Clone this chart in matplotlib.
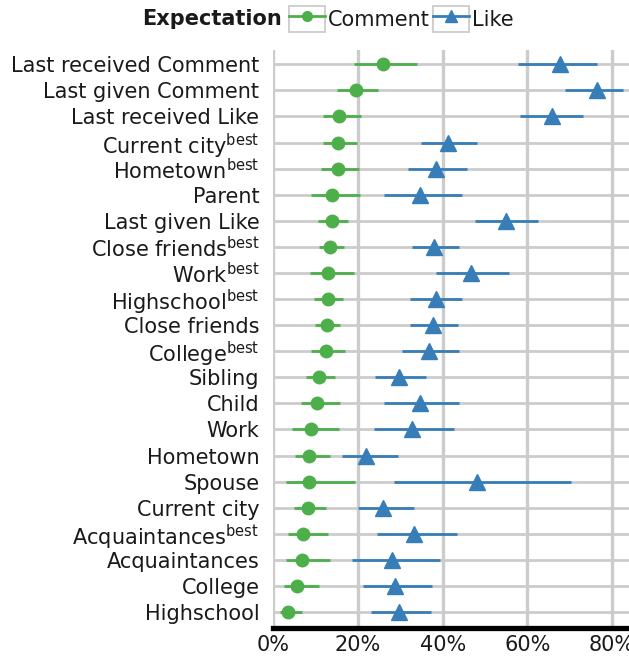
import matplotlib
matplotlib.use("Agg")
import matplotlib.pyplot as plt
from matplotlib.patches import Rectangle
from matplotlib.lines import Line2D
from matplotlib.legend_handler import HandlerTuple
from matplotlib.ticker import FixedLocator, FuncFormatter

plt.rcParams['font.family'] = ['DejaVu Sans']
plt.rcParams['mathtext.fontset'] = 'custom'
plt.rcParams['mathtext.rm'] = 'DejaVu Sans'

categories = [
    "Last received Comment", "Last given Comment", "Last received Like",
    "Current city$^{\\mathregular{best}}$", "Hometown$^{\\mathregular{best}}$", "Parent",
    "Last given Like", "Close friends$^{\\mathregular{best}}$", "Work$^{\\mathregular{best}}$",
    "Highschool$^{\\mathregular{best}}$", "Close friends", "College$^{\\mathregular{best}}$",
    "Sibling", "Child", "Work", "Hometown", "Spouse", "Current city",
    "Acquaintances$^{\\mathregular{best}}$", "Acquaintances", "College", "Highschool",
]

comment_mean = [25.8, 19.5, 15.6, 15.3, 15.2, 13.8, 13.8, 13.4, 13.0, 12.8, 12.6, 12.4,
                10.8, 10.3, 8.8, 8.5, 8.5, 8.1, 7.1, 6.8, 5.6, 3.5]
comment_lo = [19.1, 15.1, 11.8, 11.8, 11.3, 9.0, 10.5, 10.7, 8.7, 9.7, 9.8, 8.9,
              7.8, 6.5, 4.5, 5.2, 2.9, 5.0, 3.5, 3.0, 2.6, 1.7]
comment_hi = [33.9, 24.8, 20.6, 19.7, 20.2, 20.4, 17.6, 16.8, 19.1, 16.4, 15.7, 17.0,
              14.5, 15.7, 15.6, 13.5, 19.4, 12.4, 12.8, 13.5, 10.7, 6.7]

like_mean = [67.6, 76.4, 65.9, 41.3, 38.4, 34.7, 55.0, 37.9, 46.8, 38.4, 37.6, 36.8,
             29.8, 34.6, 32.7, 22.0, 48.2, 26.0, 33.2, 28.1, 28.7, 29.8]
like_lo = [57.9, 69.0, 58.3, 34.9, 31.7, 26.1, 47.7, 32.7, 38.4, 32.4, 32.3, 30.3,
           24.1, 26.2, 23.8, 16.3, 28.4, 20.0, 24.6, 18.6, 21.2, 23.0]
like_hi = [76.5, 82.5, 73.1, 48.0, 45.7, 44.5, 62.6, 43.8, 55.7, 44.6, 43.6, 43.9,
           36.0, 43.9, 42.7, 29.4, 70.3, 33.2, 43.3, 39.3, 37.4, 37.2]

x_ticks = [0, 20, 40, 60, 80]

GREEN = "#4DAF4A"
BLUE = "#377EB8"
GRID = "#CCCCCC"
TXT = "#1A1A1A"

W, H = 629, 660
fig = plt.figure(figsize=(W / 100, H / 100), dpi=100)
ax = fig.add_axes([273.3 / W, 1 - 628 / H, 1 - 273.3 / W, (628 - 50) / H])

ypos = list(range(len(categories)))

for y in ypos:
    ax.axhline(y, color=GRID, lw=2.0, zorder=0)
for xt in x_ticks:
    ax.axvline(xt, color=GRID, lw=2.4, zorder=0)

ax.errorbar(comment_mean, ypos,
            xerr=[[m - l for m, l in zip(comment_mean, comment_lo)],
                  [h - m for m, h in zip(comment_mean, comment_hi)]],
            fmt='o', color=GREEN, ms=9, elinewidth=2.0, capsize=0, zorder=3)
ax.errorbar(like_mean, ypos,
            xerr=[[m - l for m, l in zip(like_mean, like_lo)],
                  [h - m for m, h in zip(like_mean, like_hi)]],
            fmt='^', color=BLUE, ms=11, elinewidth=2.0, capsize=0, zorder=3)

ax.set_xlim(0, 84)
ax.set_ylim(21.61, -0.548)
ax.xaxis.set_major_locator(FixedLocator(x_ticks))
ax.xaxis.set_major_formatter(FuncFormatter(lambda v, p: f"{v:.0f}%"))
ax.set_yticks(ypos)
ax.set_yticklabels(categories)
ax.tick_params(axis='both', length=0, labelsize=15, colors=TXT)
ax.tick_params(axis='y', pad=10)
ax.tick_params(axis='x', pad=5)
for s in ['top', 'right', 'left']:
    ax.spines[s].set_visible(False)
ax.spines['bottom'].set_linewidth(3.8)
ax.spines['bottom'].set_color('black')
ax.spines['bottom'].set_zorder(5)

# legend
def key(color, marker, ms):
    box = Rectangle((0, 0), 1, 1, facecolor='white', edgecolor=GRID, lw=1.3)
    ln = Line2D([], [], color=color, marker=marker, ms=ms, lw=2.0)
    return (box, ln)

handles = [key(GREEN, 'o', 7), key(BLUE, '^', 9)]
leg = fig.legend(handles, ["Comment", "Like"], handler_map={tuple: HandlerTuple(ndivide=1, pad=0)},
                 loc='center left', bbox_to_anchor=(289 / W, 1 - 19 / H), ncol=2,
                 frameon=False, fontsize=15, handlelength=1.73, handleheight=1.6,
                 handletextpad=0.15, columnspacing=0.15, borderpad=0, borderaxespad=0)
for t in leg.get_texts():
    t.set_color(TXT)
fig.text(282 / W, 1 - 19 / H, "Expectation", ha='right', va='center',
         fontsize=15, fontweight='bold', color=TXT)

fig.savefig("out.png", dpi=100)
